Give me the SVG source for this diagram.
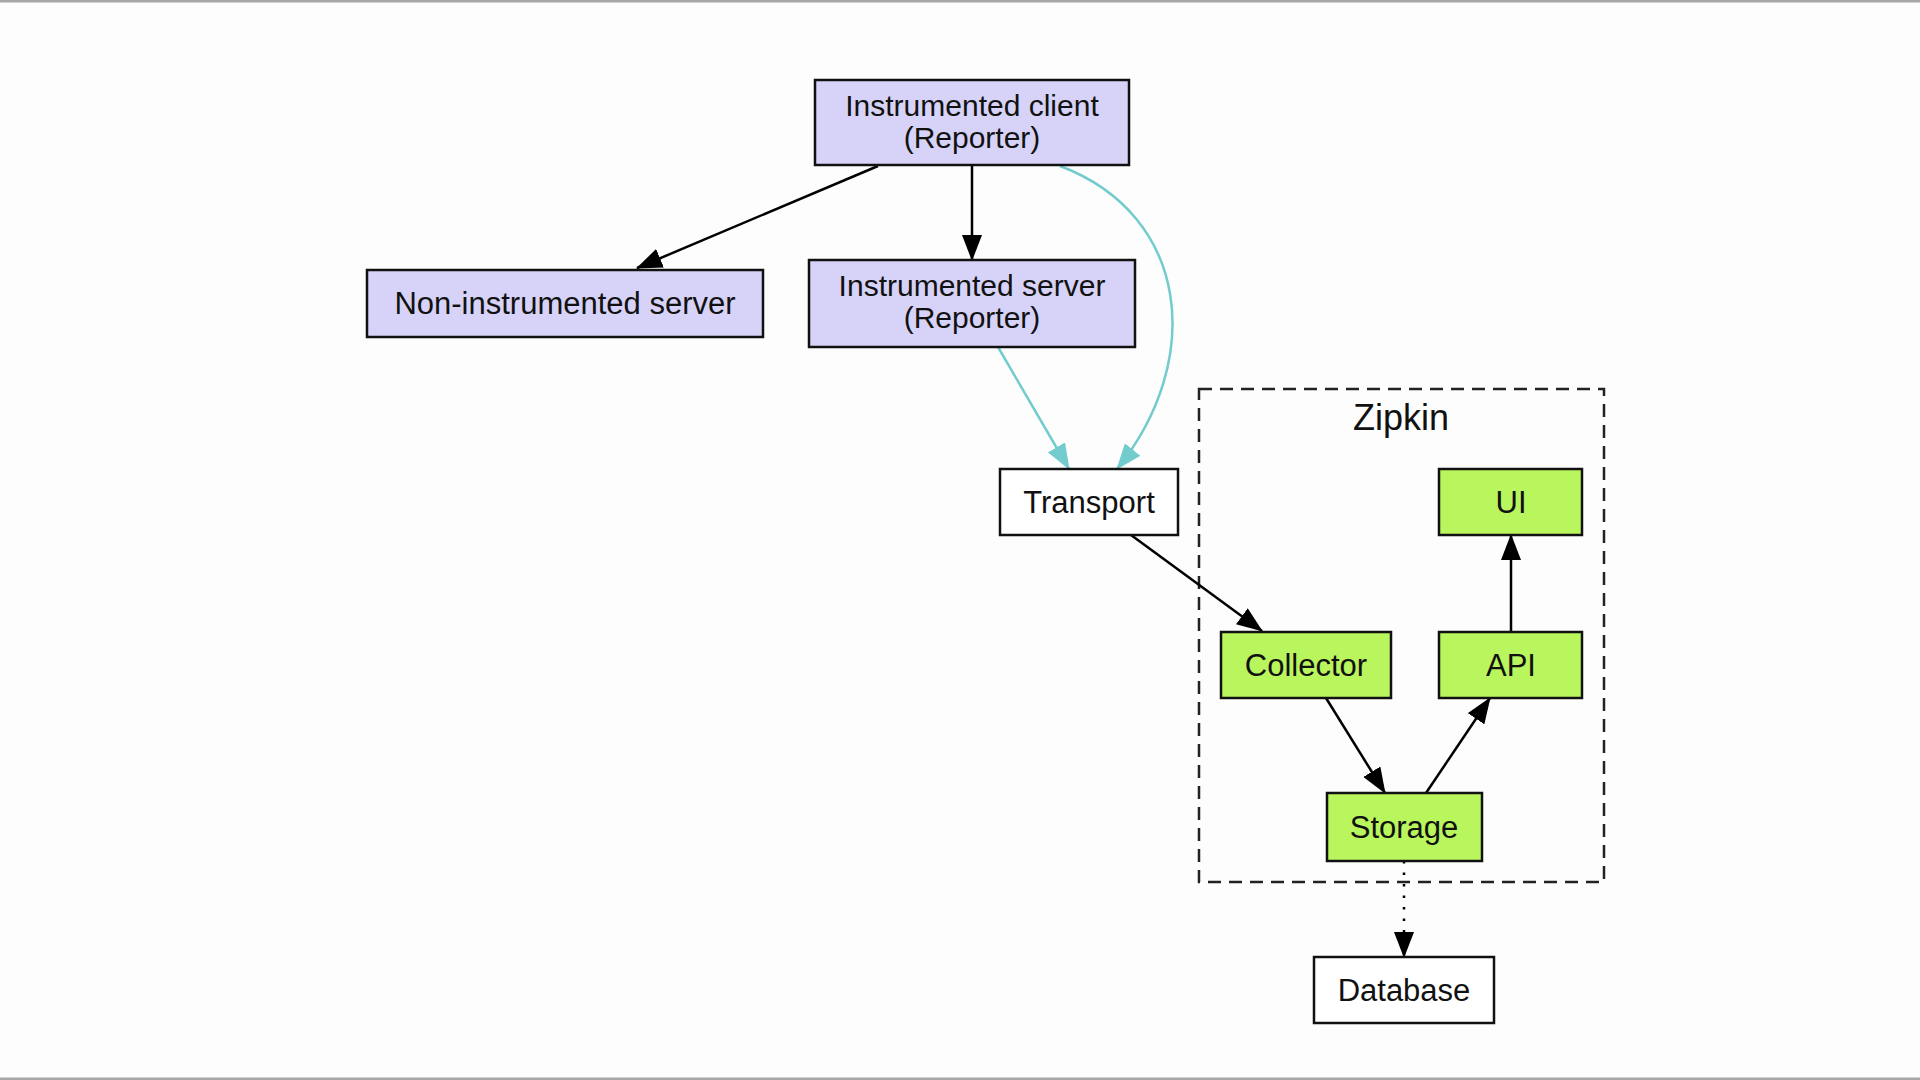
<svg xmlns="http://www.w3.org/2000/svg" width="1920" height="1080" viewBox="0 0 1920 1080">
<style>
.bg{fill:#fdfdfd}
.frame{stroke:#a8a8a8;stroke-width:3}
.node rect{stroke:#111;stroke-width:2.5}
.p{fill:#d7d3f8}
.g{fill:#b9f55d}
.w{fill:#ffffff}
text{font-family:"Liberation Sans",Arial,Helvetica,sans-serif;font-size:31px;fill:#111;text-anchor:middle}
.sm{font-size:30px}
.lbl{font-size:36px}
.cluster{fill:none;stroke:#222;stroke-width:2.5;stroke-dasharray:13 8}
.e{fill:none;stroke:#000;stroke-width:2.5}
.t{fill:none;stroke:#72cccd;stroke-width:2.5}
.d{stroke-dasharray:2.5 9}
</style>
<defs>
<marker id="ab" markerUnits="userSpaceOnUse" viewBox="0 0 26 20" markerWidth="26" markerHeight="20" refX="25" refY="10" orient="auto">
<path d="M0,0 L26,10 L0,20 z" fill="#000"/>
</marker>
<marker id="at" markerUnits="userSpaceOnUse" viewBox="0 0 26 20" markerWidth="26" markerHeight="20" refX="25" refY="10" orient="auto">
<path d="M0,0 L26,10 L0,20 z" fill="#72cccd"/>
</marker>
</defs>
<rect class="bg" x="0" y="0" width="1920" height="1080"/>
<line class="frame" x1="0" y1="1" x2="1920" y2="1"/>
<line class="frame" x1="0" y1="1079" x2="1920" y2="1079"/>

<g id="zipkin-cluster">
<rect class="cluster" x="1199" y="389" width="405" height="493"/>
<text class="lbl" x="1401" y="430">Zipkin</text>
</g>

<g id="connectors">
<path class="e" d="M878,166 L637,268" marker-end="url(#ab)"/>
<path class="e" d="M972,166 L972,260" marker-end="url(#ab)"/>
<path class="t" d="M1060,166 C1190,215 1205,360 1117,469" marker-end="url(#at)"/>
<path class="t" d="M998,347 L1069,469" marker-end="url(#at)"/>
<path class="e" d="M1131,535 L1262,631" marker-end="url(#ab)"/>
<path class="e" d="M1326,698 L1385,793" marker-end="url(#ab)"/>
<path class="e" d="M1426,793 L1490,698" marker-end="url(#ab)"/>
<path class="e" d="M1511,632 L1511,535" marker-end="url(#ab)"/>
<path class="e d" d="M1404,861 L1404,957" marker-end="url(#ab)"/>
</g>

<g id="instrumented-client" class="node">
<rect class="p" x="815" y="80" width="314" height="85"/>
<text class="sm" x="972" y="116">Instrumented client</text>
<text class="sm" x="972" y="148">(Reporter)</text>
</g>
<g id="non-instrumented-server" class="node">
<rect class="p" x="367" y="270" width="396" height="67"/>
<text x="565" y="314">Non-instrumented server</text>
</g>
<g id="instrumented-server" class="node">
<rect class="p" x="809" y="260" width="326" height="87"/>
<text class="sm" x="972" y="296">Instrumented server</text>
<text class="sm" x="972" y="328">(Reporter)</text>
</g>
<g id="transport" class="node">
<rect class="w" x="1000" y="469" width="178" height="66"/>
<text x="1089" y="513">Transport</text>
</g>
<g id="ui" class="node">
<rect class="g" x="1439" y="469" width="143" height="66"/>
<text x="1511" y="513">UI</text>
</g>
<g id="collector" class="node">
<rect class="g" x="1221" y="632" width="170" height="66"/>
<text x="1306" y="676">Collector</text>
</g>
<g id="api" class="node">
<rect class="g" x="1439" y="632" width="143" height="66"/>
<text x="1511" y="676">API</text>
</g>
<g id="storage" class="node">
<rect class="g" x="1327" y="793" width="155" height="68"/>
<text x="1404" y="838">Storage</text>
</g>
<g id="database" class="node">
<rect class="w" x="1314" y="957" width="180" height="66"/>
<text x="1404" y="1001">Database</text>
</g>
</svg>
